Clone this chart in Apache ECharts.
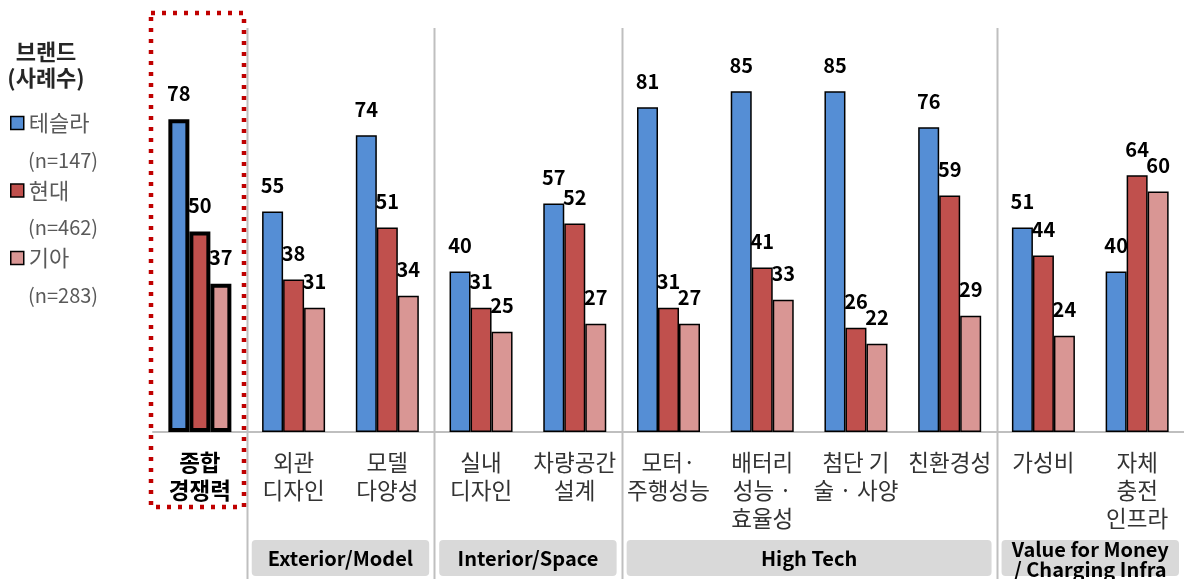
<!DOCTYPE html>
<html>
<head>
<meta charset="utf-8">
<script src="https://cdn.jsdelivr.net/npm/echarts@6/dist/echarts.min.js"></script>
<style>
html, body { margin: 0; padding: 0; background: #fff; }
#main { width: 1184px; height: 579px; }
</style>
</head>
<body>
<div id="main"></div>
<script>
var categories = ['종합\n경쟁력', '외관\n디자인', '모델\n다양성', '실내\n디자인', '차량공간\n설계',
  '모터·\n주행성능', '배터리\n성능 ·\n효율성', '첨단 기\n술 · 사양', '친환경성', '가성비', '자체\n충전\n인프라'];
var brands = ['테슬라', '현대', '기아'];
var sampleSizes = [147, 462, 283];
var tesla = [78, 55, 74, 40, 57, 81, 85, 85, 76, 51, 40];
var hyundai = [50, 38, 51, 31, 52, 31, 41, 26, 59, 44, 64];
var kia = [37, 31, 34, 25, 27, 27, 33, 22, 29, 24, 60];
var groupNames = ['Exterior/Model', 'Interior/Space', 'High Tech', 'Value for Money\n/ Charging Infra'];
var groupStart = [1, 3, 5, 9];
var groupEnd = [2, 4, 8, 10];

var colors = ['#558ED5', '#C0504D', '#D99694'];
var font = "'Noto Sans CJK KR', 'Noto Sans', sans-serif";

var myChart = echarts.init(document.getElementById('main'));

function makeSeries(name, values, color) {
  return {
    name: name,
    type: 'bar',
    barWidth: 21,
    barGap: '0%',
    itemStyle: { color: color, borderColor: '#000', borderWidth: 1.5 },
    label: {
      show: true,
      position: 'top',
      distance: 16,
      fontSize: 20,
      fontWeight: 'bold',
      color: '#000',
      fontFamily: font
    },
    data: values.map(function (v, i) {
      if (i === 0) {
        return { value: v, itemStyle: { borderWidth: 4 } };
      }
      return v;
    })
  };
}

var option = {
  animation: false,
  textStyle: { fontFamily: font },
  title: {
    text: '브랜드\n(사례수)',
    left: 46,
    top: 39,
    padding: 0,
    textAlign: 'center',
    textStyle: { fontSize: 22, fontWeight: 'bold', color: '#262626', lineHeight: 26, fontFamily: font }
  },
  legend: {
    orient: 'vertical',
    left: 10,
    top: 112,
    padding: 0,
    itemWidth: 13,
    itemHeight: 13,
    itemGap: 45.5,
    icon: 'rect',
    itemStyle: { borderColor: '#000', borderWidth: 1.5 },
    textStyle: { fontSize: 22, color: '#595959', lineHeight: 22, fontFamily: font },
    data: brands
  },
  grid: { left: 153, right: 0, top: 31, bottom: 147 },
  xAxis: {
    type: 'category',
    data: categories,
    axisLine: { lineStyle: { color: '#BFBFBF', width: 2 } },
    axisTick: { show: false },
    axisLabel: {
      interval: 0,
      margin: 16,
      fontSize: 22.5,
      lineHeight: 28,
      color: '#333',
      fontFamily: font,
      formatter: function (v, i) {
        if (i === 0) {
          return v.split('\n').map(function (s) { return '{b|' + s + '}'; }).join('\n');
        }
        return v;
      },
      rich: {
        b: { fontSize: 22.5, lineHeight: 28, fontWeight: 'bold', color: '#000', fontFamily: font }
      }
    }
  },
  yAxis: {
    type: 'value',
    min: 0,
    max: 100,
    show: false,
    splitLine: { show: false }
  },
  series: [
    makeSeries(brands[0], tesla, colors[0]),
    makeSeries(brands[1], hyundai, colors[1]),
    makeSeries(brands[2], kia, colors[2])
  ]
};

myChart.setOption(option);

// separators, group boxes, highlight box, sample sizes
var c0 = myChart.convertToPixel({ xAxisIndex: 0 }, categories[0]);
var c1 = myChart.convertToPixel({ xAxisIndex: 0 }, categories[1]);
var band = c1 - c0;
function leftEdge(i) {
  return myChart.convertToPixel({ xAxisIndex: 0 }, categories[i]) - band / 2;
}
var graphics = [];
var sepIdx = [1, 3, 5, 9];
sepIdx.forEach(function (i) {
  var x = Math.round(leftEdge(i)) + 0.5;
  graphics.push({
    type: 'line',
    shape: { x1: x, y1: 28, x2: x, y2: 579 },
    style: { stroke: '#BFBFBF', lineWidth: 2 },
    z: 0
  });
});
groupNames.forEach(function (g, k) {
  var x1 = leftEdge(groupStart[k]) + 5;
  var x2 = Math.min(leftEdge(groupEnd[k]) + band - 5, 1182);
  graphics.push({
    type: 'rect',
    shape: { x: x1, y: 540, width: x2 - x1, height: 36, r: 4 },
    style: { fill: '#D9D9D9' },
    z: 1
  });
  var twoLine = g.indexOf('\n') >= 0;
  graphics.push({
    type: 'text',
    x: (x1 + x2) / 2,
    y: twoLine ? 559 : 558,
    style: {
      text: g,
      fill: '#000',
      font: 'bold 20px ' + font,
      lineHeight: 20,
      align: 'center',
      verticalAlign: 'middle'
    },
    z: 2
  });
});
graphics.push({
  type: 'rect',
  shape: { x: 151, y: 13, width: 93, height: 494 },
  style: { fill: null, stroke: '#C00000', lineWidth: 4.5, lineDash: [4, 7] },
  z: 5
});
sampleSizes.forEach(function (n, k) {
  graphics.push({
    type: 'text',
    x: 28,
    y: 160 + k * 67.5,
    style: {
      text: '(n=' + n + ')',
      fill: '#595959',
      font: '20px ' + font,
      verticalAlign: 'middle'
    }
  });
});
myChart.setOption({ graphic: graphics });
</script>
</body>
</html>
